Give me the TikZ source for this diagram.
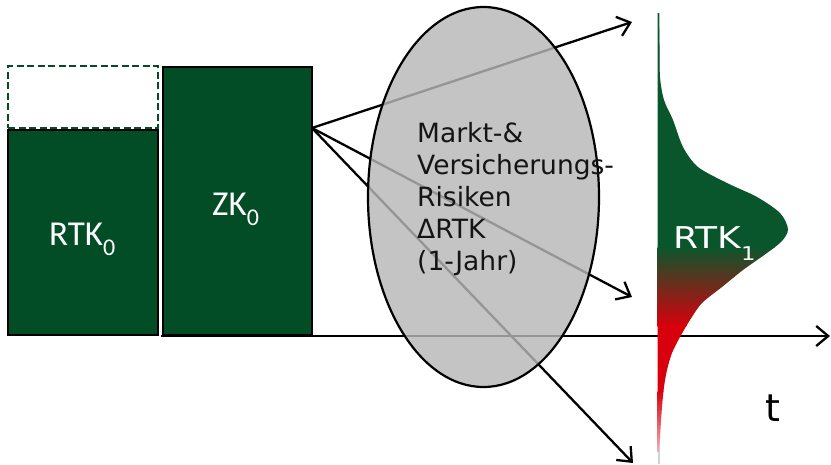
\documentclass[tikz,border=0pt]{standalone}
\usepackage{fontspec}
\setmainfont{DejaVu Sans}
\newfontfamily\boxfont{Carlito}
\usetikzlibrary{arrows.meta,shapes.geometric}

\definecolor{boxgreen}{RGB}{3,77,38}
\definecolor{distgreen}{RGB}{10,86,44}
\definecolor{distred}{RGB}{215,0,12}
\definecolor{distpink}{RGB}{245,185,190}
\definecolor{ellgray}{RGB}{183,183,183}
\definecolor{axisgray}{RGB}{200,214,220}

\tikzset{
  capbox/.style={draw=black, line width=2.8pt, fill=boxgreen, inner sep=0pt},
  reserve/.style={draw=boxgreen, line width=2.6pt, dash pattern=on 7pt off 3.5pt, inner sep=0pt},
  arr/.style={line width=2.3pt, -{Straight Barb[length=12pt,width=20pt,line width=2.3pt]}},
  boxlabel/.style={text=white, inner sep=0pt, anchor=base west, font=\boxfont\fontsize{35}{35}\selectfont},
  risktext/.style={text=black!92, inner sep=0pt, anchor=base west, align=left,
                   font=\fontsize{26.5}{31.8}\selectfont},
}

\newcommand{\lowidx}[3]{\raisebox{-#1pt}{\fontsize{#2}{#2}\selectfont #3}}

\begin{document}
\begin{tikzpicture}[x=1pt, y=-1pt]
  \useasboundingbox (0,0) rectangle (831,464);

  % vertical axis of the distribution
  \coordinate (vtop) at (659,13);
  \coordinate (vbot) at (659,464);
  \draw[axisgray, line width=2pt] (vtop) -- (vbot);

  % time axis
  \coordinate (axs) at (161,336);
  \coordinate (axe) at (830,336);
  \draw[arr] (axs) -- (axe);

  % capital boxes
  \node[reserve, minimum width=150pt, minimum height=62pt] (res) at (83,97) {};
  \node[capbox, minimum width=150pt, minimum height=205pt] (rtk0) at (83,232.5) {};
  \node[capbox, minimum width=149pt, minimum height=268pt] (zk0) at (237.5,201) {};
  \node[boxlabel] (rtk0lbl) at (49,245) {RTK\lowidx{10}{24}{0}};
  \node[boxlabel] (zk0lbl) at (212,215) {ZK\lowidx{10}{24}{0}};

  % scenario arrows
  \coordinate (src) at (312,128);
  \coordinate (e1) at (632,22);
  \coordinate (e2) at (632,297);
  \coordinate (e3) at (633,463);
  \draw[arr] (src) -- (e1);
  \draw[arr] (src) -- (e2);
  \draw[arr] (src) -- (e3);

  % risk ellipse
  \node[ellipse, draw=black, line width=2.2pt, fill=ellgray, fill opacity=0.82,
        minimum width=231pt, minimum height=380pt, inner sep=0pt] (risk) at (483.5,197) {};
  \node[risktext] (risklbl) at (417,270)
    {Markt-\&\\Versicherungs-\\Risiken\\ΔRTK\\(1-Jahr)};

  % distribution of RTK_1
  \begin{scope}
    \clip plot[smooth, tension=0.5] coordinates {
      (659,13) (659.5,45) (660,77) (664,100) (673,120) (683,147) (698,167)
      (727,183) (757,197) (780,213) (788,229) (782,241)
      (767,253) (743,270) (722,287) (702,303) (690,320) (680,337) (672,353)
      (667,370) (664,387) (662,407) (660,437) (659,452)}
      -- (657.5,452) -- (657.5,13) -- cycle;
    \fill[distgreen] (650,0) rectangle (800,248);
    \shade[top color=distgreen, bottom color=distred] (650,247) rectangle (800,326);
    \fill[distred] (650,325) rectangle (800,392);
    \shade[top color=distred, bottom color=distpink] (650,391) rectangle (800,455);
  \end{scope}

  \node[text=white, inner sep=0pt, anchor=base west, xscale=1.2,
        font=\fontsize{30}{30}\selectfont] (rtk1lbl) at (673,248)
    {RTK\lowidx{12}{19}{1}};
  \node[inner sep=0pt, anchor=base west, font=\fontsize{38}{38}\selectfont] (tlbl) at (765,421) {t};
\end{tikzpicture}
\end{document}
